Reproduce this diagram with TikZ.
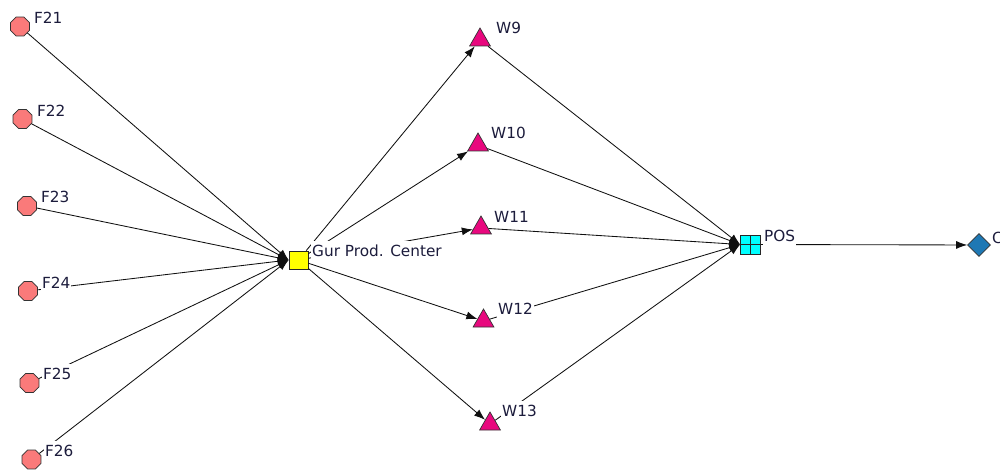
\documentclass[tikz,border=0pt]{standalone}
\usepackage{fontspec}
\setmainfont{DejaVu Sans}
\usetikzlibrary{shapes.geometric,arrows.meta}
\definecolor{fpink}{HTML}{FA7A7A}
\definecolor{wmag}{HTML}{E8087E}
\definecolor{dblue}{HTML}{1E78B4}
\definecolor{pcyan}{HTML}{00FFFF}
\definecolor{gyel}{HTML}{FFFF00}
\definecolor{linec}{HTML}{101010}
\definecolor{txtc}{HTML}{1C1C3C}
\tikzset{
  fnode/.style={regular polygon,regular polygon sides=8,minimum size=20.5pt,inner sep=0pt,fill=fpink,draw=black!80,line width=0.7pt},
  wnode/.style={regular polygon,regular polygon sides=3,minimum size=24pt,inner sep=0pt,fill=wmag,draw=black!80,line width=0.7pt},
  gnode/.style={rectangle,minimum width=19pt,minimum height=18pt,inner sep=0pt,fill=gyel,draw=black!85,line width=0.7pt},
  pnode/.style={rectangle,minimum width=20pt,minimum height=19pt,inner sep=0pt,fill=pcyan,draw=black!85,line width=0.7pt,
    path picture={\draw[black!85,line width=0.7pt] (path picture bounding box.north) -- (path picture bounding box.south)
      (path picture bounding box.west) -- (path picture bounding box.east);}},
  cnode/.style={diamond,minimum width=23pt,minimum height=23pt,inner sep=0pt,fill=dblue,draw=black!80,line width=0.7pt},
  lbl/.style={anchor=west,fill=white,inner sep=1pt,text height=15pt,text depth=4pt,text=txtc,font=\fontsize{15.3}{18}\selectfont},
  conn/.style={draw=linec,line width=0.85pt,-{Latex[length=11pt,width=8pt]}}
}
\begin{document}
\begin{tikzpicture}[x=1pt,y=-1pt]
\useasboundingbox (0,0) rectangle (1000,470);
% shapes
\node[fnode] (f21) at (20,26.5) {};
\node[fnode] (f22) at (22.5,119) {};
\node[fnode] (f23) at (27,206) {};
\node[fnode] (f24) at (28,291) {};
\node[fnode] (f25) at (29.5,383) {};
\node[fnode] (f26) at (31.5,459.5) {};
\node[gnode] (gur) at (298.5,260) {};
\node[wnode] (w9) at (480,40) {};
\node[wnode] (w10) at (478,145) {};
\node[wnode] (w11) at (481,228) {};
\node[wnode] (w12) at (483.5,321) {};
\node[wnode] (w13) at (490,424) {};
\node[pnode] (pos) at (750.5,244.5) {};
\node[cnode] (c) at (979,245) {};
% connectors
\foreach \f in {f21,f22,f23,f24,f25,f26} \draw[conn] (\f) -- (gur.west);
\foreach \w in {w9,w10,w11,w12,w13} \draw[conn] (gur) -- (\w);
\foreach \w in {w9,w10,w11,w12,w13} \draw[conn] (\w) -- (pos.west);
\draw[conn] (pos) -- (c);
% labels
\node[lbl] (lf21) at (33,18) {F21};
\node[lbl] (lf22) at (36,111) {F22};
\node[lbl] (lf23) at (40,197) {F23};
\node[lbl] (lf24) at (41,283) {F24};
\node[lbl] (lf25) at (42,374) {F25};
\node[lbl] (lf26) at (44,451) {F26};
\node[lbl] (lgur) at (311,251) {Gur Prod. Center};
\node[lbl] (lw9) at (495,28) {W9};
\node[lbl] (lw10) at (490,133) {W10};
\node[lbl] (lw11) at (493,217) {W11};
\node[lbl] (lw12) at (497,309) {W12};
\node[lbl] (lw13) at (501,411) {W13};
\node[lbl] (lpos) at (763,236) {POS};
\node[lbl] (lc) at (991,238) {C};
\end{tikzpicture}
\end{document}
